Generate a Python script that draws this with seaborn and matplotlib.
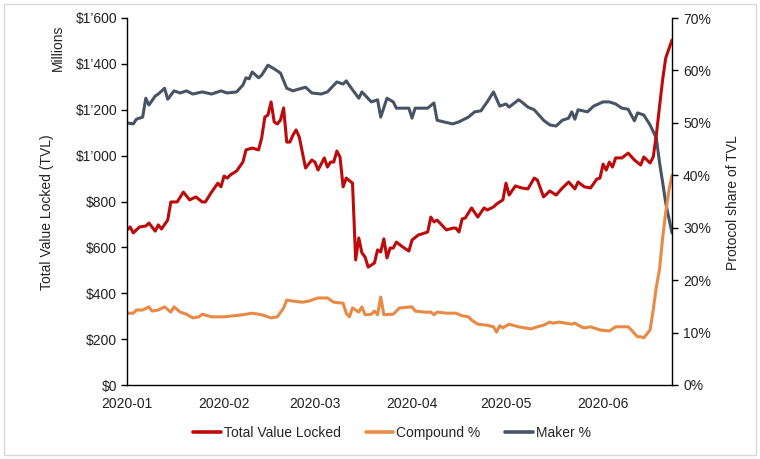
import numpy as np
import pandas as pd
import matplotlib
matplotlib.use("Agg")
import matplotlib.pyplot as plt
import matplotlib.dates as mdates
from matplotlib.ticker import FuncFormatter, MultipleLocator
from matplotlib.lines import Line2D
from matplotlib.patches import Rectangle
import seaborn as sns

START = "2020-01-01"

# Total Value Locked (USD millions): day offset from 2020-01-01, value
tvl_days = [0, 1, 2, 4, 6, 7, 9, 10, 11, 13, 14, 16, 18, 20, 22, 24, 25, 27, 29, 30,
            31, 32, 33, 35, 37, 38, 40, 42, 43, 44, 45, 46, 47, 48, 49, 50, 51, 52, 53, 54,
            55, 57, 59, 60, 61, 63, 64, 65, 66, 67, 68, 69, 70, 72, 73, 74, 75, 76, 77, 79,
            80, 81, 82, 83, 84, 85, 86, 88, 90, 91, 93, 94, 96, 97, 98, 99, 102, 104, 105, 106,
            107, 108, 110, 112, 114, 115, 117, 118, 120, 121, 122, 124, 126, 128, 130, 131, 133, 135, 137, 139,
            141, 143, 144, 146, 148, 150, 151, 152, 153, 154, 155, 156, 158, 160, 162, 164, 165, 167, 168, 169,
            170, 171, 172, 174]
tvl_values = [676, 689, 663, 689, 693, 706, 671, 698, 680, 719, 798, 798, 841, 807, 820, 798, 798, 841, 880, 864,
              911, 902, 916, 933, 972, 1025, 1033, 1025, 1077, 1168, 1177, 1234, 1147, 1138, 1155, 1208, 1059, 1059, 1090, 1112,
              1081, 946, 981, 972, 937, 990, 950, 972, 972, 1020, 994, 864, 902, 880, 545, 641, 576, 558, 514, 532,
              589, 580, 637, 554, 597, 597, 623, 602, 584, 632, 654, 658, 667, 732, 711, 719, 676, 684, 684, 667,
              724, 728, 772, 732, 772, 763, 776, 789, 807, 880, 828, 868, 859, 855, 902, 894, 820, 846, 828, 859,
              885, 855, 885, 864, 859, 898, 902, 963, 937, 972, 950, 990, 990, 1011, 981, 959, 994, 968, 994, 1090,
              1212, 1330, 1426, 1504]

# Compound share of TVL (%)
compound_days = [0, 2, 3, 5, 7, 8, 10, 12, 14, 15, 17, 19, 21, 23, 24, 27, 31, 34, 37, 40,
                 43, 46, 48, 50, 51, 53, 56, 58, 61, 64, 66, 69, 70, 71, 72, 74, 75, 76, 78, 79,
                 80, 81, 82, 85, 87, 91, 92, 95, 97, 98, 99, 102, 105, 107, 109, 110, 112, 115, 117, 118,
                 119, 120, 122, 125, 129, 131, 133, 135, 136, 138, 142, 143, 145, 146, 148, 151, 154, 156, 158, 160,
                 161, 163, 164, 165, 167, 168, 169, 170, 171, 172, 173, 174]
compound_pct = [13.7, 13.7, 14.3, 14.3, 14.9, 14.1, 14.3, 14.9, 13.9, 14.9, 13.9, 13.5, 12.8, 13.0, 13.5, 13.0, 13.0, 13.2, 13.4, 13.7,
                13.4, 12.8, 13.0, 14.7, 16.2, 16.0, 15.8, 16.0, 16.6, 16.6, 15.8, 15.6, 13.7, 13.0, 14.7, 13.9, 14.9, 13.4, 13.5, 14.1,
                13.4, 16.8, 13.4, 13.5, 14.7, 14.9, 14.1, 13.9, 13.9, 13.4, 13.9, 13.7, 13.7, 13.2, 13.0, 12.4, 11.6, 11.4, 11.1, 10.1,
                11.3, 10.9, 11.6, 11.1, 10.7, 11.1, 11.4, 12.0, 11.8, 12.0, 11.6, 11.8, 11.1, 10.9, 11.1, 10.5, 10.3, 11.1, 11.1, 11.1,
                10.5, 9.2, 9.2, 9.0, 10.5, 14.3, 18.7, 22.0, 28.0, 33.0, 37.0, 40.0]

# Maker share of TVL (%)
maker_days = [0, 2, 3, 5, 6, 7, 9, 10, 12, 13, 15, 17, 19, 21, 24, 27, 30, 32, 35, 37,
              38, 39, 40, 42, 43, 45, 47, 49, 51, 53, 54, 57, 59, 62, 64, 67, 69, 70, 72, 74,
              75, 78, 80, 81, 83, 85, 86, 90, 91, 92, 94, 96, 98, 99, 101, 104, 106, 109, 111, 113,
              115, 117, 119, 121, 122, 125, 126, 128, 130, 133, 135, 137, 139, 141, 142, 143, 144, 147, 149, 152,
              154, 156, 158, 160, 162, 163, 165, 167, 169, 170, 171, 172, 174]
maker_pct = [50.0, 49.8, 50.7, 51.1, 54.7, 53.4, 55.1, 55.5, 56.6, 54.5, 56.1, 55.7, 56.1, 55.5, 55.9, 55.5, 56.1, 55.7, 55.9, 57.2,
             58.6, 58.4, 59.7, 58.6, 59.1, 61.0, 60.3, 59.5, 56.6, 56.1, 56.3, 56.8, 55.7, 55.5, 55.9, 57.8, 57.4, 58.0, 56.3, 54.7,
             55.9, 54.0, 54.4, 51.1, 54.7, 54.0, 52.8, 52.8, 50.9, 52.8, 52.8, 52.8, 53.8, 50.5, 50.2, 49.8, 50.2, 51.1, 52.1, 52.3,
             54.0, 55.9, 53.2, 53.6, 53.0, 54.4, 54.0, 53.0, 52.5, 50.5, 49.6, 49.4, 50.5, 50.9, 52.1, 50.7, 52.5, 52.1, 53.2, 54.0,
             54.0, 53.6, 52.8, 52.6, 50.4, 51.9, 51.5, 49.6, 47.1, 42.5, 38.7, 34.7, 29.0]

month_ticks = ["2020-01", "2020-02", "2020-03", "2020-04", "2020-05", "2020-06"]

TVL_COLOR = "#BD0A0A"
COMP_COLOR = "#E88A45"
MAKER_COLOR = "#475466"

start = pd.Timestamp(START)
tvl_df = pd.DataFrame({"date": start + pd.to_timedelta(tvl_days, unit="D"), "value": tvl_values})
comp_df = pd.DataFrame({"date": start + pd.to_timedelta(compound_days, unit="D"), "value": compound_pct})
maker_df = pd.DataFrame({"date": start + pd.to_timedelta(maker_days, unit="D"), "value": maker_pct})

sns.set_theme(style="white")
plt.rcParams["font.family"] = ["Liberation Sans", "DejaVu Sans"]
plt.rcParams["font.size"] = 10

fig = plt.figure(figsize=(7.6, 4.59), dpi=100)
ax = fig.add_axes([127 / 760, 1 - 385 / 459, (672 - 127) / 760, (385 - 18) / 459])
ax2 = ax.twinx()

sns.lineplot(data=maker_df, x="date", y="value", ax=ax2, color=MAKER_COLOR, linewidth=2.2)
sns.lineplot(data=comp_df, x="date", y="value", ax=ax2, color=COMP_COLOR, linewidth=2.2)
sns.lineplot(data=tvl_df, x="date", y="value", ax=ax, color=TVL_COLOR, linewidth=2.2)

# put TVL axis drawing order: draw ax2 under ax
ax.set_zorder(ax2.get_zorder() + 1)
ax.patch.set_visible(False)

ax.set_ylim(0, 1600)
ax2.set_ylim(0, 70)
end = tvl_df["date"].max()
ax.set_xlim(start, end)

ax.yaxis.set_major_locator(MultipleLocator(200))
ax.yaxis.set_major_formatter(FuncFormatter(lambda v, p: "$" + f"{v:,.0f}".replace(",", "\u2019")))
ax2.yaxis.set_major_locator(MultipleLocator(10))
ax2.yaxis.set_major_formatter(FuncFormatter(lambda v, p: f"{v:.0f}%"))

ax.set_xticks([pd.Timestamp(m + "-01") for m in month_ticks])
ax.set_xticklabels(month_ticks)

for a in (ax, ax2):
    a.set_xlabel("")
    a.set_ylabel("")
    for s in a.spines.values():
        s.set_color("black")
        s.set_linewidth(1.0)
    a.spines["top"].set_visible(False)
    a.tick_params(axis="both", which="major", direction="out", length=4, width=1,
                  color="black", labelsize=10, labelcolor="#222222", pad=3)
    a.grid(False)
ax.spines["right"].set_visible(False)
ax2.spines["left"].set_visible(False)
ax2.spines["bottom"].set_visible(False)
ax.tick_params(axis="x", pad=5)
ax2.tick_params(axis="y", pad=4)

fig.text(47 / 760, 1 - 212 / 459, "Total Value Locked (TVL)", rotation=90,
         ha="center", va="center", fontsize=10, color="#222222")
fig.text(58 / 760, 1 - 25 / 459, "Millions", rotation=90,
         ha="center", va="top", fontsize=10, color="#222222")
fig.text(733 / 760, 1 - 203 / 459, "Protocol share of TVL", rotation=90,
         ha="center", va="center", fontsize=10, color="#222222")

handles = [Line2D([], [], color=TVL_COLOR, lw=2.6),
           Line2D([], [], color=COMP_COLOR, lw=2.6),
           Line2D([], [], color=MAKER_COLOR, lw=2.6)]
labels = ["Total Value Locked", "Compound %", "Maker %"]
fig.legend(handles, labels, loc="center", bbox_to_anchor=(392 / 760, 1 - 433 / 459),
           ncol=3, frameon=False, fontsize=10, handlelength=2.0, handletextpad=0.2,
           columnspacing=1.8)

fig.patches.append(Rectangle((4 / 760, 4 / 459), 752 / 760, 451 / 459, transform=fig.transFigure,
                             fill=False, edgecolor="#d9d9d9", linewidth=1.0))

fig.savefig("out.png", dpi=100)
